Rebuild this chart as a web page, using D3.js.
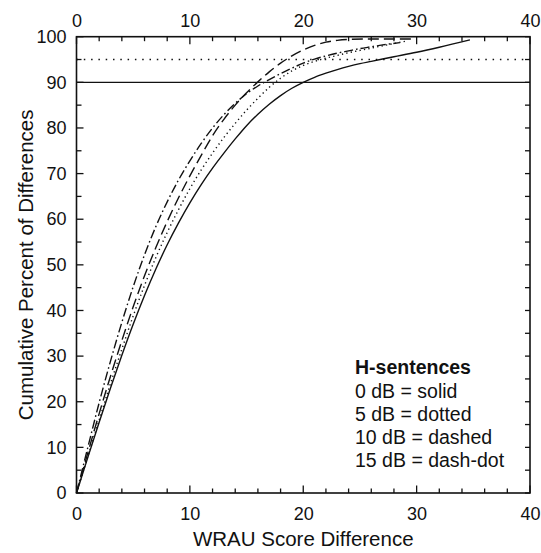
<!DOCTYPE html>
<html>
<head>
<meta charset="utf-8">
<script src="https://cdn.jsdelivr.net/npm/d3@7/dist/d3.min.js"></script>
<style>
  html, body { margin: 0; padding: 0; background: #fff; }
  svg { display: block; }
  text { font-family: "Liberation Sans", Arial, Helvetica, sans-serif; fill: #111; }
</style>
</head>
<body>
<svg id="chart" width="541" height="553"></svg>
<script>
// Cumulative distributions of WRAU score differences, one per S/N condition
const solidX    = [0, 1, 2, 3, 4, 5, 6, 7, 8, 9, 10, 11, 12, 13, 14, 15, 16, 17, 18, 19, 20, 21, 22, 23, 24, 25, 26, 28, 30, 32, 34.7];
const solidY    = [0, 7.8, 15.5, 23, 30.2, 37, 43.3, 49.1, 54.4, 59.2, 63.6, 67.6, 71.2, 74.5, 77.6, 80.5, 83, 85.2, 87.1, 88.7, 90, 91.1, 92, 92.8, 93.5, 94.1, 94.6, 95.6, 96.6, 97.7, 99.3];

const dottedX   = [0, 1, 2, 3, 4, 5, 6, 7, 8, 9, 10, 11, 12, 13, 14, 15, 16, 17, 18, 19, 20, 21, 22, 23, 24, 25, 26, 27, 28, 29];
const dottedY   = [0, 8, 16, 24, 31.5, 38.8, 45.5, 51.6, 57.1, 62.1, 66.7, 70.8, 74.5, 77.9, 81, 83.9, 86.5, 88.9, 90.9, 92.5, 93.7, 94.6, 95.3, 95.9, 96.5, 97, 97.5, 98, 98.5, 99];

const dashedX   = [0, 1, 2, 3, 4, 5, 6, 7, 8, 9, 10, 11, 12, 13, 14, 15, 16, 17, 18, 19, 20, 21, 22, 23, 24, 26, 29.5];
const dashedY   = [0, 8.8, 17.4, 25.6, 33.4, 40.8, 47.6, 53.8, 59.5, 64.7, 69.5, 74, 78.3, 81.9, 85, 87.7, 90.1, 92.3, 94.2, 95.8, 97.1, 98.1, 98.8, 99.2, 99.4, 99.5, 99.5];

const dashDotX  = [0, 1, 2, 3, 4, 5, 6, 7, 8, 9, 10, 11, 12, 13, 14, 15, 16, 17, 18, 19, 20, 21, 22, 23, 24, 25, 26, 27, 28.5];
const dashDotY  = [0, 10, 19.8, 28.9, 37.4, 45.2, 52.2, 58.4, 63.8, 68.6, 72.8, 76.6, 80, 82.9, 85.4, 87.5, 89.2, 90.6, 91.9, 93.1, 94.2, 95.1, 95.8, 96.4, 96.9, 97.4, 97.8, 98.2, 98.7];

// Reference levels drawn across the plot
const refSolid = 90;
const refDotted = 95;

// Axis ticks
const xTickLabels = [0, 10, 20, 30, 40];
const xMinorTicks = d3.range(0, 41, 2);
const yTickLabels = [0, 10, 20, 30, 40, 50, 60, 70, 80, 90, 100];
const yMinorTicks = d3.range(0, 101, 5);

// Legend text
const legendTitle = "H-sentences";
const legendLines = ["0 dB = solid", "5 dB = dotted", "10 dB = dashed", "15 dB = dash-dot"];

const xTitle = "WRAU Score Difference";
const yTitle = "Cumulative Percent of Differences";

const series = [
  { xs: solidX,   ys: solidY,   dash: null },
  { xs: dottedX,  ys: dottedY,  dash: "1.3,3.2" },
  { xs: dashedX,  ys: dashedY,  dash: "11,5" },
  { xs: dashDotX, ys: dashDotY, dash: "9,3,1.6,3" }
];

const L = 76.5, R = 530, T = 36.7, B = 493;
const x = d3.scaleLinear().domain([0, 40]).range([L, R]);
const y = d3.scaleLinear().domain([0, 100]).range([B, T]);

const svg = d3.select("#chart");

// Curves
const line = d3.line()
  .x(d => x(d[0]))
  .y(d => y(d[1]))
  .curve(d3.curveMonotoneX);

series.forEach(s => {
  const pts = s.xs.map((v, i) => [v, s.ys[i]]);
  svg.append("path")
    .attr("d", line(pts))
    .attr("fill", "none")
    .attr("stroke", "#111")
    .attr("stroke-width", 1.4)
    .attr("stroke-dasharray", s.dash);
});

// Reference lines
svg.append("line")
  .attr("x1", x(0)).attr("x2", x(40))
  .attr("y1", y(refSolid)).attr("y2", y(refSolid))
  .attr("stroke", "#111").attr("stroke-width", 1.3);
svg.append("line")
  .attr("x1", x(0)).attr("x2", x(40))
  .attr("y1", y(refDotted)).attr("y2", y(refDotted))
  .attr("stroke", "#111").attr("stroke-width", 1.5)
  .attr("stroke-dasharray", "1.5,5.8");

// X ticks on bottom and top, pointing inward; longer at multiples of 10
function drawXTicks(yPos, dir) {
  svg.append("g").selectAll("line").data(xMinorTicks).join("line")
    .attr("x1", d => x(d)).attr("x2", d => x(d))
    .attr("y1", yPos)
    .attr("y2", d => yPos + dir * (d % 10 === 0 ? 7.5 : 4.5))
    .attr("stroke", "#111").attr("stroke-width", 1.3);
}
drawXTicks(B, -1);
drawXTicks(T, 1);

const gxb = svg.append("g").attr("transform", `translate(0,${B})`)
  .call(d3.axisBottom(x).tickValues(xTickLabels).tickSize(0).tickPadding(14));
const gxt = svg.append("g").attr("transform", `translate(0,${T})`)
  .call(d3.axisTop(x).tickValues(xTickLabels).tickSize(0).tickPadding(10));
const gyl = svg.append("g").attr("transform", `translate(${L},0)`)
  .call(d3.axisLeft(y).tickValues(yTickLabels).tickSize(0).tickPadding(10));
[gxb, gxt, gyl].forEach(g => {
  g.select(".domain").remove();
  g.selectAll("text").attr("font-size", 18).attr("fill", "#111")
    .attr("font-family", "'Liberation Sans', Arial, sans-serif");
});

// Y ticks, left and right
svg.append("g").selectAll("line").data(yMinorTicks).join("line")
  .attr("x1", L).attr("x2", d => L + (d % 10 === 0 ? 7 : 5))
  .attr("y1", d => y(d)).attr("y2", d => y(d))
  .attr("stroke", "#111").attr("stroke-width", 1.3);
svg.append("g").selectAll("line").data(yMinorTicks).join("line")
  .attr("x1", R).attr("x2", R - 5)
  .attr("y1", d => y(d)).attr("y2", d => y(d))
  .attr("stroke", "#111").attr("stroke-width", 1.3);

// Frame
svg.append("rect")
  .attr("x", L).attr("y", T).attr("width", R - L).attr("height", B - T)
  .attr("fill", "none").attr("stroke", "#111").attr("stroke-width", 1.6);

// Axis titles
svg.append("text")
  .attr("x", (L + R) / 2).attr("y", 546)
  .attr("text-anchor", "middle").attr("font-size", 20.5)
  .text(xTitle);
svg.append("text")
  .attr("transform", `translate(33,${(T + B) / 2}) rotate(-90)`)
  .attr("text-anchor", "middle").attr("font-size", 20.5)
  .text(yTitle);

// Legend
const lg = svg.append("g").attr("transform", "translate(355,0)");
lg.append("text").attr("x", 0).attr("y", 374)
  .attr("font-size", 19.5).attr("font-weight", "bold").text(legendTitle);
lg.selectAll("text.item").data(legendLines).join("text")
  .attr("class", "item")
  .attr("x", 0).attr("y", (d, i) => 398 + i * 23)
  .attr("font-size", 19.5).text(d => d);
</script>
</body>
</html>
